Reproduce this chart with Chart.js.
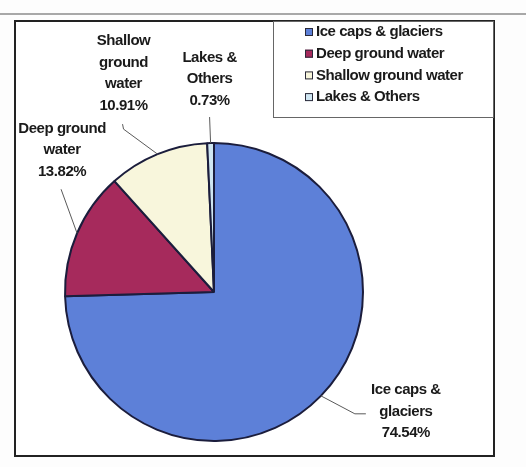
<!DOCTYPE html>
<html>
<head>
<meta charset="utf-8">
<script src="https://cdn.jsdelivr.net/npm/chart.js@4.4.1/dist/chart.umd.min.js"></script>
<style>
  html, body { margin: 0; padding: 0; background: #fdfdfd; }
  #wrap { width: 526px; height: 467px; position: relative; }
</style>
</head>
<body>
<div id="wrap"><canvas id="waterPie"></canvas></div>
<script>
// water reserves by source, percent
const categories = ['Ice caps & glaciers', 'Deep ground water', 'Shallow ground water', 'Lakes & Others'];
const shares = [74.54, 13.82, 10.91, 0.73];
// how each slice label is broken over lines (the percent goes underneath)
const labelLines = [
  ['Ice caps &', 'glaciers'],
  ['Deep ground', 'water'],
  ['Shallow', 'ground', 'water'],
  ['Lakes &', 'Others']
];
const sliceColors = ['#5d80d8', '#a62a5c', '#f8f6dc', '#cfe6f2'];

// label placement, relative to the point where the slice's mid-angle meets the rim
const labelSpots = [
  { dx: 85, dy: 16, leader: [[34, 18], [45, 18]] },
  { dx: -15, dy: -83, leader: [[-16, -44]] },
  { dx: -34, dy: -81, leader: [[-34, -25], [-35, -30]] },
  { dx: -1, dy: -64, leader: [[-1, -26]] }
];

const FONT = 'bold 15px "Liberation Sans", Arial, sans-serif';
const LINE_H = 21.5;

function setText(ctx) {
  ctx.font = FONT;
  ctx.fillStyle = '#1a1a1a';
  ctx.textBaseline = 'middle';
  if ('letterSpacing' in ctx) ctx.letterSpacing = '-0.45px';
}

// frame, page rule and legend box
const framePlugin = {
  id: 'frame',
  beforeDraw(chart) {
    const ctx = chart.ctx;
    ctx.save();
    ctx.strokeStyle = '#555';
    ctx.lineWidth = 1.2;
    ctx.beginPath();
    ctx.moveTo(0, 14);
    ctx.lineTo(526, 14);
    ctx.stroke();
    ctx.fillStyle = '#ffffff';
    ctx.fillRect(15, 21, 479, 435);
    ctx.restore();
  },
  afterDraw(chart) {
    const ctx = chart.ctx;
    ctx.save();
    ctx.strokeStyle = '#222';
    ctx.lineWidth = 2;
    ctx.strokeRect(15, 21, 479, 435);

    // legend
    ctx.strokeStyle = '#666';
    ctx.lineWidth = 1;
    ctx.strokeRect(273.5, 21.5, 220, 96);
    setText(ctx);
    ctx.textAlign = 'left';
    categories.forEach((name, i) => {
      const y = 32 + i * 21.7;
      ctx.fillStyle = sliceColors[i];
      ctx.fillRect(305, y - 4, 8, 8);
      ctx.strokeStyle = '#2a2a3a';
      ctx.lineWidth = 1;
      ctx.strokeRect(305.5, y - 3.5, 7, 7);
      ctx.fillStyle = '#1a1a1a';
      ctx.fillText(name, 316, y);
    });
    ctx.restore();
  }
};

// outside labels with leader lines
const sliceLabelPlugin = {
  id: 'sliceLabels',
  afterDatasetsDraw(chart) {
    const ctx = chart.ctx;
    const arcs = chart.getDatasetMeta(0).data;
    ctx.save();
    arcs.forEach((arc, i) => {
      const mid = (arc.startAngle + arc.endAngle) / 2;
      const ex = arc.x + Math.cos(mid) * arc.outerRadius;
      const ey = arc.y + Math.sin(mid) * arc.outerRadius;
      const spot = labelSpots[i];

      ctx.strokeStyle = '#5a5a5a';
      ctx.lineWidth = 1;
      ctx.beginPath();
      ctx.moveTo(ex, ey);
      spot.leader.forEach(p => ctx.lineTo(ex + p[0], ey + p[1]));
      ctx.stroke();

      const lines = labelLines[i].concat([shares[i].toFixed(2) + '%']);
      setText(ctx);
      ctx.textAlign = 'center';
      const cx = ex + spot.dx;
      const top = ey + spot.dy - (lines.length - 1) * LINE_H / 2;
      lines.forEach((t, k) => ctx.fillText(t, cx, top + k * LINE_H));
    });
    ctx.restore();
  }
};

new Chart(document.getElementById('waterPie'), {
  type: 'pie',
  data: {
    labels: categories,
    datasets: [{
      data: shares,
      backgroundColor: sliceColors,
      borderColor: '#1b1d3c',
      borderWidth: 2,
      hoverOffset: 0
    }]
  },
  options: {
    responsive: true,
    maintainAspectRatio: false,
    animation: false,
    events: [],
    layout: { padding: { left: 64, right: 162, top: 142, bottom: 25 } },
    plugins: {
      legend: { display: false },
      tooltip: { enabled: false }
    }
  },
  plugins: [framePlugin, sliceLabelPlugin]
});
</script>
</body>
</html>
